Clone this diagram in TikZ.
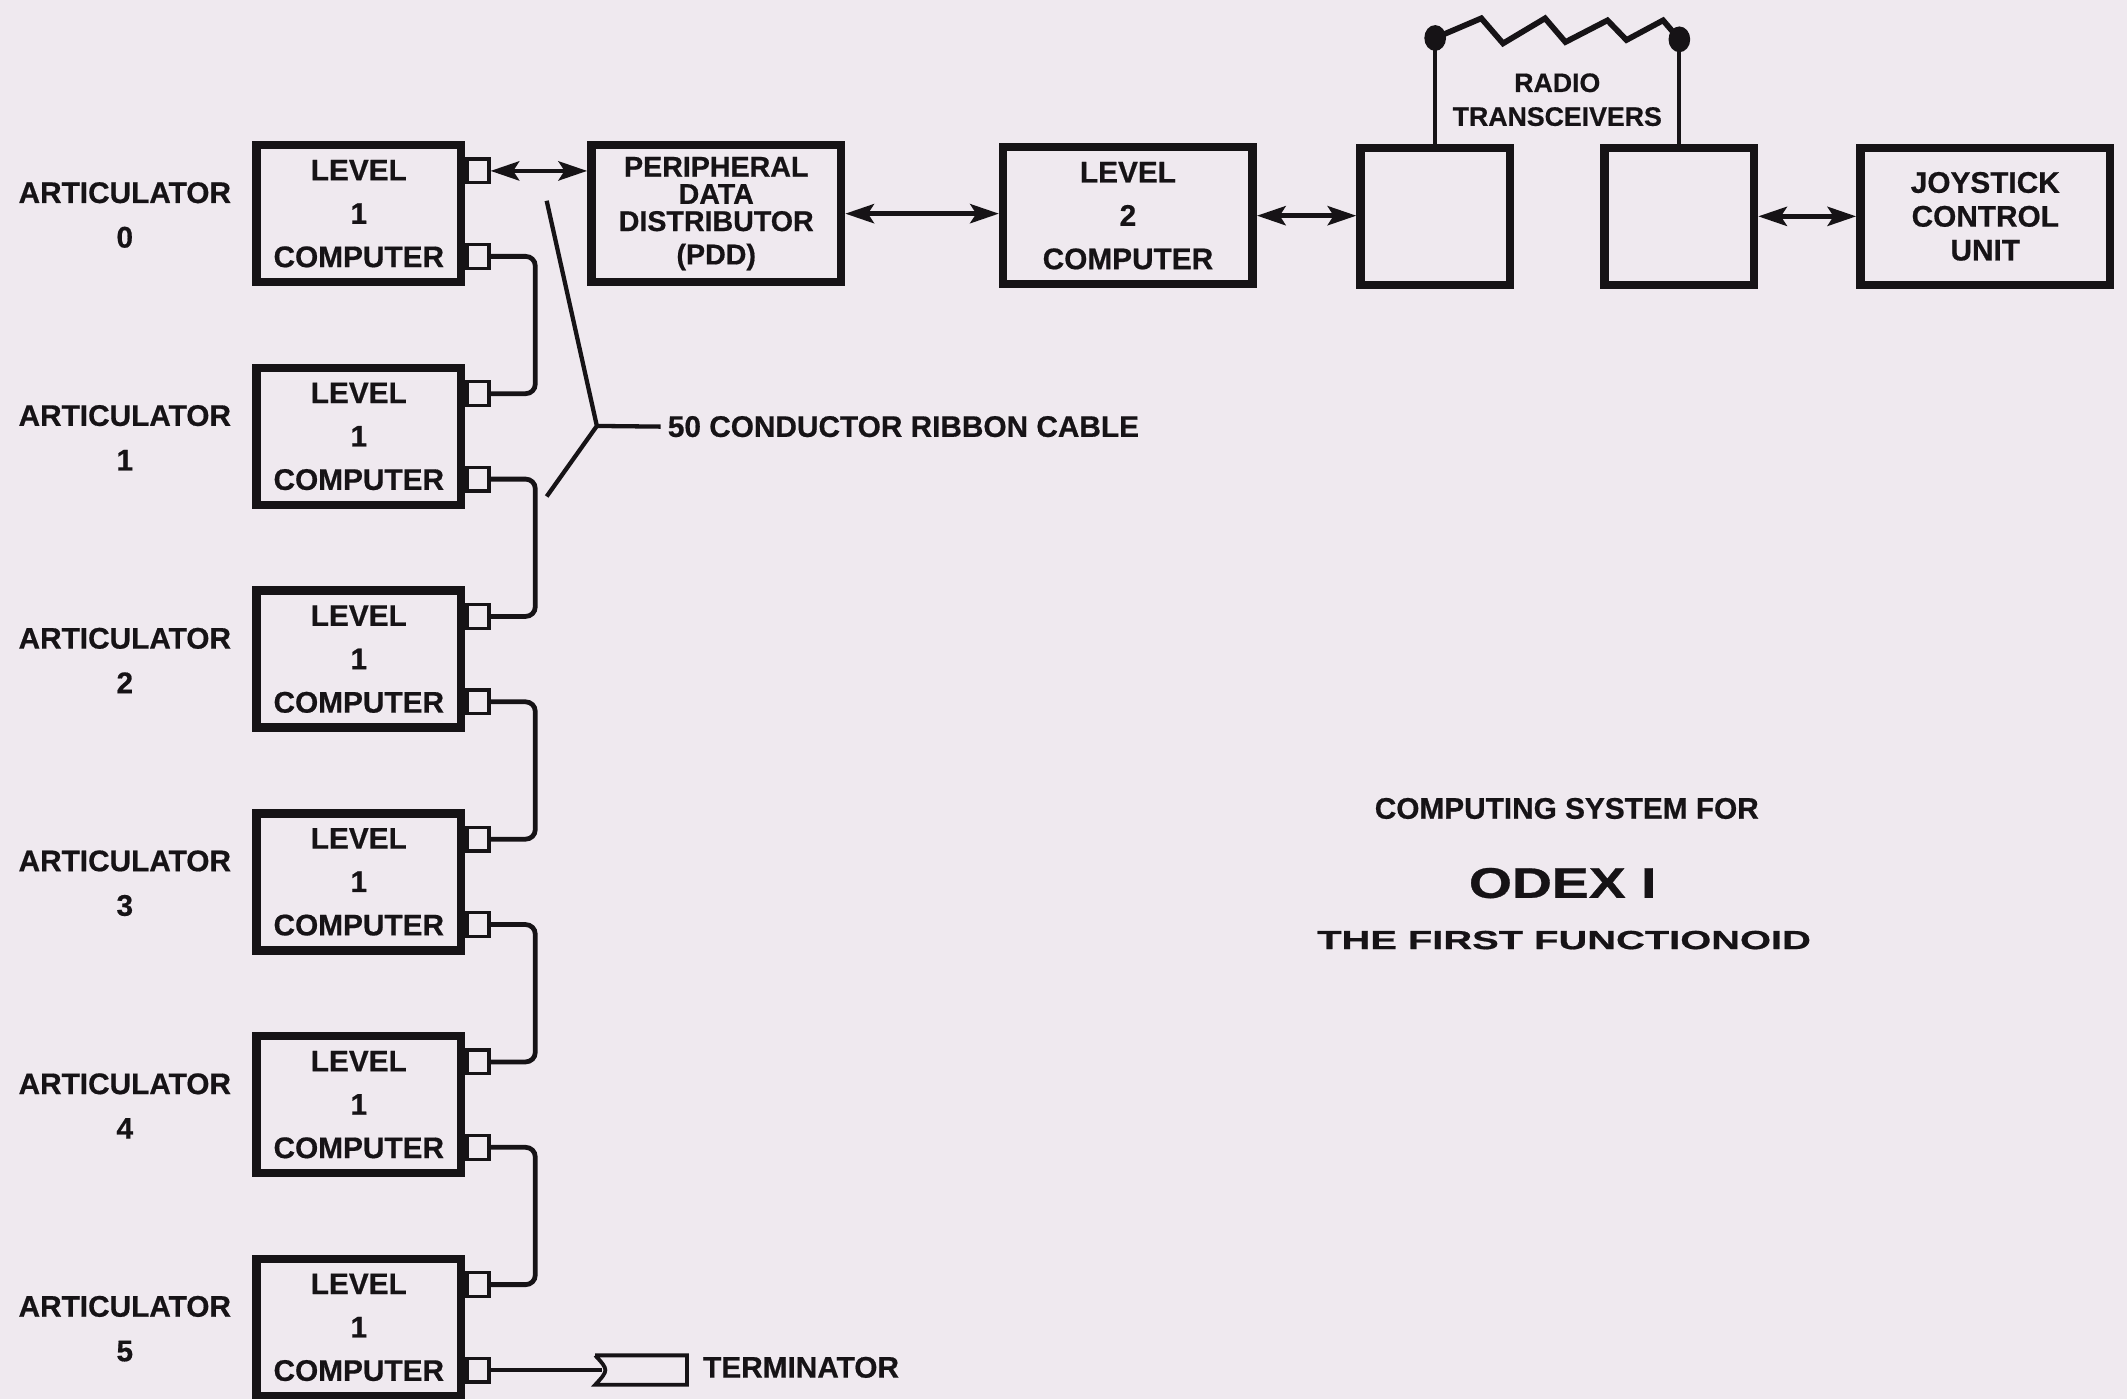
\documentclass[tikz,border=0pt]{standalone}
\usepackage{fontspec}
\setmainfont{Liberation Sans}[BoldFeatures={FakeBold=0.6}]
\usetikzlibrary{calc,arrows.meta}
\definecolor{paper}{RGB}{239,233,239}
\definecolor{ink}{RGB}{22,19,22}
\begin{document}
\begin{tikzpicture}[x=0.02cm,y=-0.02cm,
  box/.style={draw=ink, line width=3.6pt, inner sep=0pt, align=center, text=ink,
    font=\fontsize{12.5}{18.2}\selectfont\bfseries},
  lone/.style={box, minimum width=3.02cm, minimum height=2.02cm},
  widebox/.style={box, minimum width=3.68cm, minimum height=2.02cm},
  radiobox/.style={box, minimum width=2.2cm, minimum height=2.02cm},
  port/.style={draw=ink, line width=1.4pt, minimum width=0.32cm, minimum height=0.35cm,
    inner sep=0pt, anchor=west},
  cable/.style={draw=ink, line width=2pt},
  tipA/.tip={Stealth[length=12pt,width=8pt,inset=2.5pt]},
  link/.style={cable, tipA-tipA},
  lbl/.style={text=ink, align=center, inner sep=0pt,
    font=\fontsize{12.5}{18.7}\selectfont\bfseries}
]
\fill[paper] (0,0) rectangle (1568,1031);
\useasboundingbox (0,0) rectangle (1568,1031);

% level 1 computers with ports and articulator labels
\foreach \k in {0,...,5}{
  \node[lone] (b\k) at (264.5,{157.5+164.2*\k}) {LEVEL\\1\\COMPUTER};
  \node[port] (pa\k) at ($(b\k.east)+(0,-31.5)$) {};
  \node[port] (pb\k) at ($(b\k.east)+(0,31.5)$) {};
  \node[lbl] (a\k) at (92,{158.5+164.2*\k}) {ARTICULATOR\\\k};
}
% daisy chain
\foreach \k [count=\n from 1] in {0,...,4}{
  \draw[cable, rounded corners=4pt] (pb\k.east) -- ++(33,0) |- (pa\n.east);
}

% top row
\node[widebox, font=\fontsize{12}{11.4}\selectfont\bfseries] (pdd) at (528,157.5)
  {PERIPHERAL\\DATA\\DISTRIBUTOR\\[2.6pt](PDD)};
\node[widebox] (l2) at (831.5,159) {LEVEL\\2\\COMPUTER};
\node[radiobox] (ra) at (1058,159.5) {};
\node[radiobox] (rb) at (1238,159.5) {};
\node[widebox, font=\fontsize{12.5}{14.2}\selectfont\bfseries] (joy) at (1463.5,159.5)
  {JOYSTICK\\CONTROL\\UNIT};

\draw[link] (pa0.east) -- (pa0.east -| pdd.west);
\draw[link] (pdd.east) -- (pdd.east -| l2.west);
\draw[link] (l2.east) -- (l2.east -| ra.west);
\draw[link] (rb.east) -- (rb.east -| joy.west);

% antennas
\coordinate (ta) at (1058,28);
\coordinate (tb) at (1238,29);
\draw[cable, line width=1.6pt] (ra.north) -- (ta);
\draw[cable, line width=1.6pt] (rb.north) -- (tb);
\draw[cable, line width=2.4pt, line join=miter] (ta) -- (1092,13.5) -- (1108,32) -- (1139,13.5)
  -- (1154,31) -- (1185,15) -- (1199,29.5) -- (1226,15) -- (tb);
\fill[ink] (ta) ellipse [x radius=0.16cm, y radius=0.19cm];
\fill[ink] (tb) ellipse [x radius=0.16cm, y radius=0.19cm];
\node[lbl, font=\fontsize{11.2}{14.2}\selectfont\bfseries] (rlbl) at (1148,73.5)
  {RADIO\\TRANSCEIVERS};

% ribbon cable callout
\coordinate (rt) at (403,148);
\coordinate (rbot) at (403,366);
\coordinate (rj) at (440,314);
\node[lbl, anchor=west] (rib) at (492,314.5) {50 CONDUCTOR RIBBON CABLE};
\draw[cable, line width=1.8pt] (rt) -- (rj) -- (rbot);
\draw[cable, line width=1.8pt] (rj) -- ($(rib.west)+(-5,0)$);

% terminator
\node[inner sep=0pt, minimum width=1.34cm, minimum height=0.42cm] (term)
  at ($(pb5.east)+(111,0)$) {};
\draw[ink, line width=1.6pt] (term.north west) -- (term.north east) -- (term.south east)
  -- (term.south west) .. controls ($(term.west)+(10,0)$) .. (term.north west);
\draw[cable] (pb5.east) -- ($(term.west)+(5,0)$);
\node[lbl, anchor=west] (tlbl) at (518,1008) {TERMINATOR};

% title
\node[lbl] (t1) at (1155,596) {COMPUTING SYSTEM FOR};
\node[lbl, font=\fontsize{18}{20}\selectfont\bfseries] (t2) at (1152,651)
  {\scalebox{1.29}[1]{ODEX I}};
\node[lbl, font=\fontsize{11}{12}\selectfont\bfseries] (t3) at (1153,693)
  {\scalebox{1.52}[1]{THE FIRST FUNCTIONOID}};
\end{tikzpicture}
\end{document}
